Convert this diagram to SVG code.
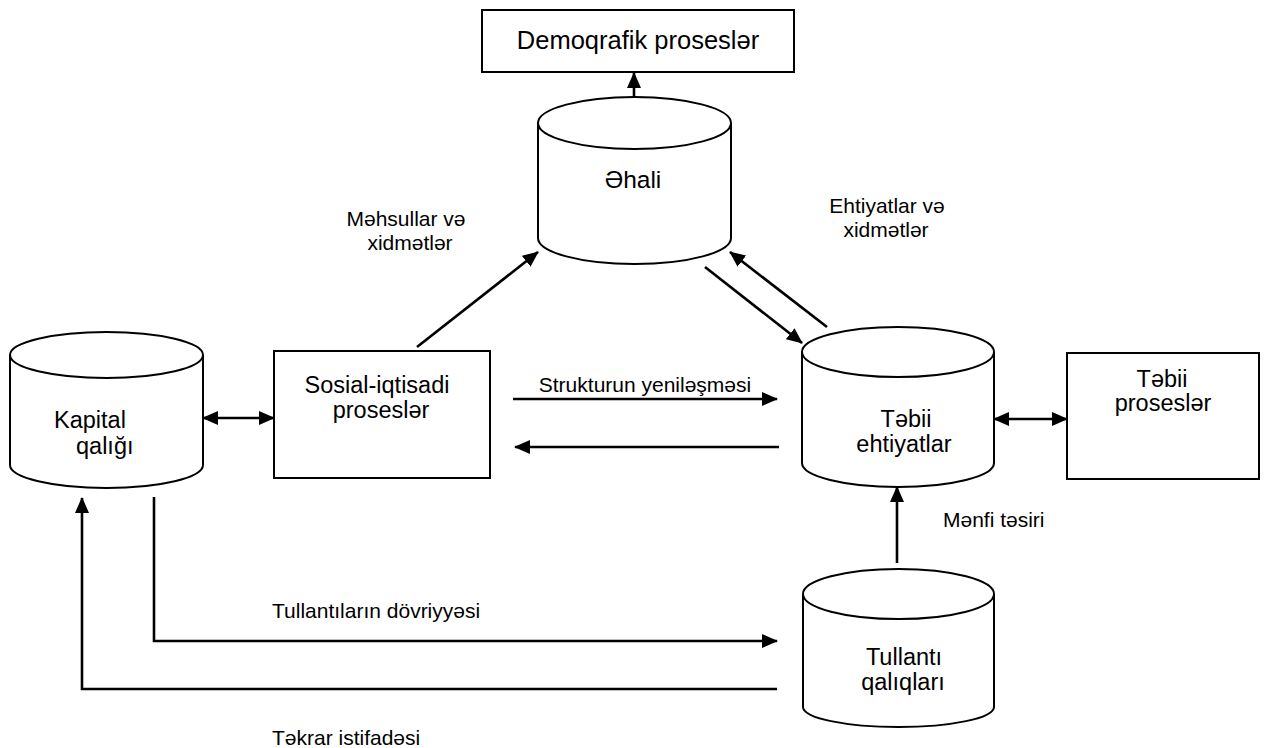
<svg xmlns="http://www.w3.org/2000/svg" width="1264" height="748" viewBox="0 0 1264 748">
<style>
.sh{fill:#fff;stroke:#000;stroke-width:2}
.ln{fill:none;stroke:#000;stroke-width:2.6}
.t{font-family:"Liberation Sans",Arial,sans-serif;fill:#000}
.nl{font-size:23.5px;text-anchor:middle}
.el{font-size:21px}
</style>
<defs>
<marker id="ah" viewBox="0 0 16 14" refX="15" refY="7" markerWidth="16" markerHeight="14" markerUnits="userSpaceOnUse" orient="auto-start-reverse"><path d="M0,0 L16,7 L0,14 z" fill="#000"/></marker>
</defs>
<rect width="1264" height="748" fill="#fff"/>
<g id="demoqrafik">
<rect class="sh" x="482" y="10" width="312" height="62"/>
<text class="t" x="638" y="49" font-size="25.5" text-anchor="middle">Demoqrafik proseslər</text>
</g>
<g id="ehali">
<path class="sh" d="M538,123 L538,238 A96.5,26 0 0 0 731,238 L731,123"/>
<ellipse class="sh" cx="634.5" cy="123" rx="96.5" ry="26"/>
<text class="t" x="633" y="188" font-size="24.5" text-anchor="middle">Əhali</text>
</g>
<g id="kapital">
<path class="sh" d="M10,355 L10,465 A96.5,23 0 0 0 203,465 L203,355"/>
<ellipse class="sh" cx="106.5" cy="355" rx="96.5" ry="23"/>
<text class="t" x="54" y="428" font-size="23.5">Kapital</text>
<text class="t" x="76" y="454" font-size="23.5">qalığı</text>
</g>
<g id="sosial">
<rect class="sh" x="274" y="351" width="216" height="127"/>
<text class="t nl" x="377" y="393">Sosial-iqtisadi</text>
<text class="t nl" x="381" y="418">proseslər</text>
</g>
<g id="tebii-ehtiyatlar">
<path class="sh" d="M802,352 L802,463 A96,24 0 0 0 994,463 L994,352"/>
<ellipse class="sh" cx="898" cy="352" rx="96" ry="25"/>
<text class="t nl" x="906" y="427">Təbii</text>
<text class="t nl" x="904" y="452">ehtiyatlar</text>
</g>
<g id="tebii-prosesler">
<rect class="sh" x="1067" y="353" width="192" height="126"/>
<text class="t nl" x="1162" y="387">Təbii</text>
<text class="t nl" x="1163" y="411">proseslər</text>
</g>
<g id="tullanti">
<path class="sh" d="M803,594 L803,707 A95.5,20 0 0 0 994,707 L994,594"/>
<ellipse class="sh" cx="898.5" cy="594" rx="95.5" ry="25"/>
<text class="t nl" x="904" y="665">Tullantı</text>
<text class="t nl" x="903" y="690">qalıqları</text>
</g>
<g id="connectors">
<line class="ln" x1="634" y1="97" x2="634" y2="73" marker-end="url(#ah)"/>
<line class="ln" x1="417" y1="347" x2="538" y2="252" marker-end="url(#ah)"/>
<line class="ln" x1="705" y1="267" x2="802" y2="343" marker-end="url(#ah)"/>
<line class="ln" x1="827" y1="327" x2="730" y2="252" marker-end="url(#ah)"/>
<line class="ln" x1="203" y1="418" x2="274" y2="418" marker-start="url(#ah)" marker-end="url(#ah)"/>
<line class="ln" x1="513" y1="399" x2="777" y2="399" marker-end="url(#ah)"/>
<line class="ln" x1="779" y1="447" x2="515" y2="447" marker-end="url(#ah)"/>
<line class="ln" x1="994" y1="419" x2="1067" y2="419" marker-start="url(#ah)" marker-end="url(#ah)"/>
<line class="ln" x1="897" y1="563" x2="897" y2="487" marker-end="url(#ah)"/>
<polyline class="ln" points="154,497 154,641 777,641" stroke-width="3" marker-end="url(#ah)"/>
<polyline class="ln" points="777,689 82,689 82,498" marker-end="url(#ah)"/>
<text class="t el" x="406" y="226" text-anchor="middle">Məhsullar və</text>
<text class="t el" x="410" y="250" text-anchor="middle">xidmətlər</text>
<text class="t el" x="887" y="213" text-anchor="middle">Ehtiyatlar və</text>
<text class="t el" x="886" y="237" text-anchor="middle">xidmətlər</text>
<text class="t el" x="645" y="392" text-anchor="middle">Strukturun yeniləşməsi</text>
<text class="t el" x="943" y="527">Mənfi təsiri</text>
<text class="t el" x="272" y="618">Tullantıların dövriyyəsi</text>
<text class="t el" x="272" y="745">Təkrar istifadəsi</text>
</g>
</svg>
